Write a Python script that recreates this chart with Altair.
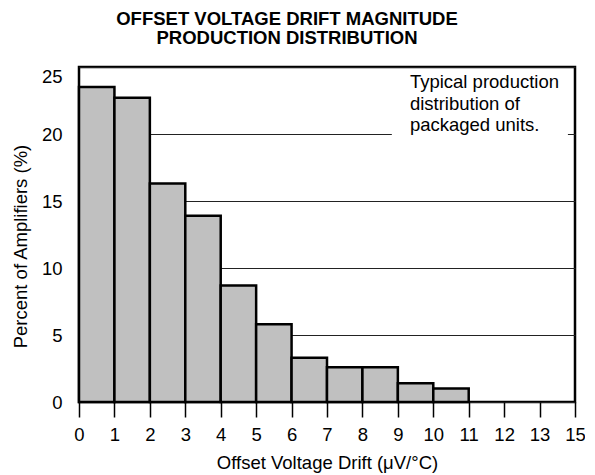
import altair as alt
import pandas as pd

# ---- data ----
bin_start = [0, 1, 2, 3, 4, 5, 6, 7, 8, 9, 10]
bin_end = [1, 2, 3, 4, 5, 6, 7, 8, 9, 10, 11]
percent = [23.5, 22.7, 16.3, 13.9, 8.7, 5.8, 3.3, 2.6, 2.6, 1.4, 1.0]
x_ticks = [0, 1, 2, 3, 4, 5, 6, 7, 8, 9, 10, 11, 12, 13, 14]
x_tick_labels = ["0", "1", "2", "3", "4", "5", "6", "7", "8", "9", "10", "11", "12", "13", "15"]
y_ticks = [0, 5, 10, 15, 20, 25]
title_lines = ["OFFSET VOLTAGE DRIFT MAGNITUDE", "PRODUCTION DISTRIBUTION"]
note_text = ["Typical production", "distribution of", "packaged units."]

FONT = "Liberation Sans"
FS = 18.5

df = pd.DataFrame({"start": bin_start, "end": bin_end, "pct": percent})
note_box = pd.DataFrame({"start": [8.83], "end": [13.8], "pct": [19.5], "top": [24.2]})
note_df = pd.DataFrame({"start": [9.34], "pct": [23.43], "t": ["\n".join(note_text)]})

label_expr = "[" + ",".join("'%s'" % s for s in x_tick_labels) + "][round(datum.value)]"

x_scale = alt.Scale(domain=[0, 14], nice=False, zero=False)
y_scale = alt.Scale(domain=[0, 25], nice=False)

x_axis = alt.Axis(
    values=x_ticks, labelExpr=label_expr, title="Offset Voltage Drift (μV/°C)",
    grid=False, domain=False, ticks=True, tickSize=15, tickColor="black", tickWidth=1.5,
    labelFlush=False, labelOverlap=False, labelPadding=8, labelFontSize=FS,
    labelColor="black", labelFont=FONT,
    titleX=248, titleY=60, titleBaseline="middle", titleFontSize=FS, titleColor="black",
    titleFontWeight="normal", titleFont=FONT,
)
y_axis = alt.Axis(
    values=y_ticks, title="Percent of Amplifiers (%)", grid=True, gridColor="#222",
    gridWidth=1.2, domain=False, ticks=False, labelPadding=17, labelFontSize=FS,
    labelColor="black", labelFont=FONT, labelBaseline="middle", labelOverlap=False,
    labelOffset={"condition": {"test": "datum.value == 25", "value": 9}, "value": 0},
    titleX=-59, titleY=179, titleBaseline="middle", titleAngle=-90, titleFontSize=FS,
    titleColor="black", titleFontWeight="normal", titleFont=FONT,
)

X = alt.X("start:Q", scale=x_scale, axis=x_axis)
Y = alt.Y("pct:Q", scale=y_scale, axis=y_axis)

bars = alt.Chart(df).mark_rect(fill="#c0c0c0", stroke="black", strokeWidth=2.5).encode(
    x=X, x2="end:Q", y=Y, y2=alt.datum(0),
)

box = alt.Chart(note_box).mark_rect(fill="white", strokeWidth=0).encode(
    x=X, x2="end:Q", y=Y, y2="top:Q",
)

note = alt.Chart(note_df).mark_text(
    align="left", baseline="alphabetic", fontSize=FS, lineHeight=21.5,
    lineBreak="\n", font=FONT, color="black"
).encode(x=X, y=Y, text="t:N")

chart = alt.layer(bars, box, note).properties(
    width=496, height=335,
    title=alt.TitleParams(
        title_lines, fontSize=FS, fontWeight="bold", font=FONT, color="black",
        anchor="middle", dx=-40, offset=20, lineHeight=19,
    ),
    autosize=alt.AutoSizeParams(type="none"),
    padding={"left": 71, "top": 59, "right": 10, "bottom": 72},
).configure_view(stroke="black", strokeWidth=2.5)

chart.save("out.html", embed_options={"renderer": "svg", "actions": False})
